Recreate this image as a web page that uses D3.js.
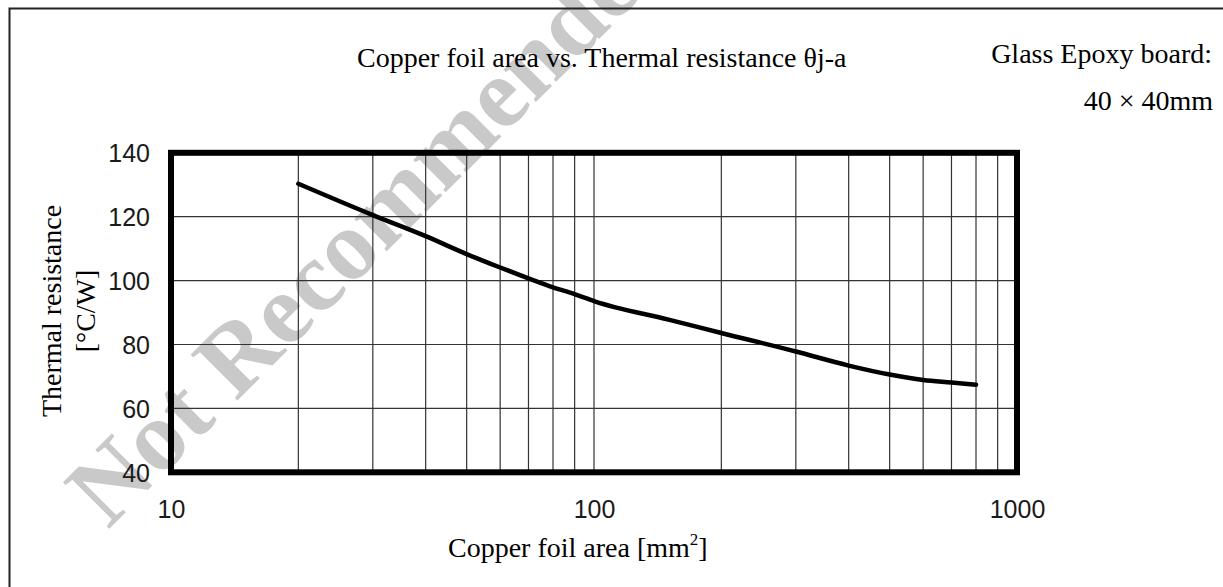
<!DOCTYPE html>
<html>
<head>
<meta charset="utf-8">
<script src="https://cdn.jsdelivr.net/npm/d3@7"></script>
<style>
  html, body { margin: 0; padding: 0; background: #fff; }
  svg { display: block; }
</style>
</head>
<body>
<svg id="chart" width="1223" height="587"></svg>
<script>
// ---- data ----
const area = [20, 30, 40, 50, 60, 70, 80, 90, 100, 150, 200, 300, 400, 500, 600, 700, 800];
const theta = [130.3, 120.5, 113.9, 108.3, 104.1, 100.7, 97.9, 95.8, 93.6, 87.8, 83.6, 77.8, 73.4, 70.6, 68.9, 68.1, 67.4];
const xTickLabels = [10, 100, 1000];
const yTickLabels = [40, 60, 80, 100, 120, 140];
const xGrid = [20, 30, 40, 50, 60, 70, 80, 90, 100, 200, 300, 400, 500, 600, 700, 800, 900];
const yGrid = [60, 80, 100, 120];
const titleText = "Copper foil area vs. Thermal resistance θj-a";
const boardText1 = "Glass Epoxy board:";
const boardText2 = "40 × 40mm";
const yTitle1 = "Thermal resistance";
const yTitle2 = "[°C/W]";
const watermark = "Not Recommended";

const svg = d3.select("#chart");
const serif = "'Liberation Serif', 'Times New Roman', Times, serif";
const sans = "'Liberation Sans', Arial, sans-serif";

const x = d3.scaleLog().domain([10, 1000]).range([171, 1017]);
const y = d3.scaleLinear().domain([40, 140]).range([472.3, 152.8]);

// watermark (behind)
svg.append("text")
  .attr("transform", "translate(108,530) rotate(-45)")
  .attr("font-family", serif)
  .attr("font-weight", "bold")
  .attr("font-size", 100)
  .attr("fill", "#c9c9c9")
  .text(watermark);

// outer frame (top + left only visible)
svg.append("path")
  .attr("d", "M9.5,587 L9.5,8.5 L1223,8.5")
  .attr("fill", "none")
  .attr("stroke", "#222")
  .attr("stroke-width", 2);

// grid
const g = svg.append("g");
g.selectAll("line.vg").data(xGrid).join("line")
  .attr("class", "vg")
  .attr("x1", d => x(d)).attr("x2", d => x(d))
  .attr("y1", y(40)).attr("y2", y(140))
  .attr("stroke", "#333").attr("stroke-width", 1.2);
g.selectAll("line.hg").data(yGrid).join("line")
  .attr("class", "hg")
  .attr("y1", d => y(d)).attr("y2", d => y(d))
  .attr("x1", x(10)).attr("x2", x(1000))
  .attr("stroke", "#333").attr("stroke-width", 1.2);

// curve
const pts = area.map((a, i) => [a, theta[i]]);
svg.append("path")
  .datum(pts)
  .attr("d", d3.line().x(d => x(d[0])).y(d => y(d[1])).curve(d3.curveMonotoneX))
  .attr("fill", "none")
  .attr("stroke", "#000")
  .attr("stroke-width", 4.5)
  .attr("stroke-linecap", "round");

// plot frame
svg.append("rect")
  .attr("x", x(10)).attr("y", y(140))
  .attr("width", x(1000) - x(10)).attr("height", y(40) - y(140))
  .attr("fill", "none").attr("stroke", "#000").attr("stroke-width", 6);

// axes (labels only)
const xAxis = svg.append("g")
  .attr("transform", `translate(0,${y(40)})`)
  .call(d3.axisBottom(x).tickValues(xTickLabels).tickFormat(d3.format("d")).tickSize(0));
xAxis.select(".domain").remove();
xAxis.selectAll("text")
  .attr("y", 46).attr("dy", 0)
  .attr("font-family", sans).attr("font-size", 25).attr("fill", "#1a1a1a");

const yAxis = svg.append("g")
  .attr("transform", `translate(${x(10)},0)`)
  .call(d3.axisLeft(y).tickValues(yTickLabels).tickSize(0));
yAxis.select(".domain").remove();
yAxis.selectAll("text")
  .attr("x", -21).attr("dy", "0.36em")
  .attr("font-family", sans).attr("font-size", 25).attr("fill", "#1a1a1a");

// title
svg.append("text")
  .attr("x", 357).attr("y", 67)
  .attr("font-family", serif).attr("font-size", 28).attr("fill", "#000")
  .text(titleText);

svg.append("text")
  .attr("x", 1212).attr("y", 63).attr("text-anchor", "end")
  .attr("font-family", serif).attr("font-size", 28).attr("fill", "#000")
  .text(boardText1);
svg.append("text")
  .attr("x", 1213).attr("y", 110).attr("text-anchor", "end")
  .attr("font-family", serif).attr("font-size", 28).attr("fill", "#000")
  .text(boardText2);

// y title
const yt = svg.append("text")
  .attr("transform", "translate(60.5,311) rotate(-90)")
  .attr("text-anchor", "middle")
  .attr("font-family", serif).attr("font-size", 28).attr("fill", "#000");
yt.append("tspan").attr("x", 0).attr("y", 0).text(yTitle1);
yt.append("tspan").attr("x", 0).attr("y", 34).text(yTitle2);

// x title
const xt = svg.append("text")
  .attr("x", 448).attr("y", 557)
  .attr("font-family", serif).attr("font-size", 28).attr("fill", "#000");
xt.append("tspan").text("Copper foil area [mm");
xt.append("tspan").attr("font-size", 17).attr("dy", -12).text("2");
xt.append("tspan").attr("dy", 12).text("]");
</script>
</body>
</html>
